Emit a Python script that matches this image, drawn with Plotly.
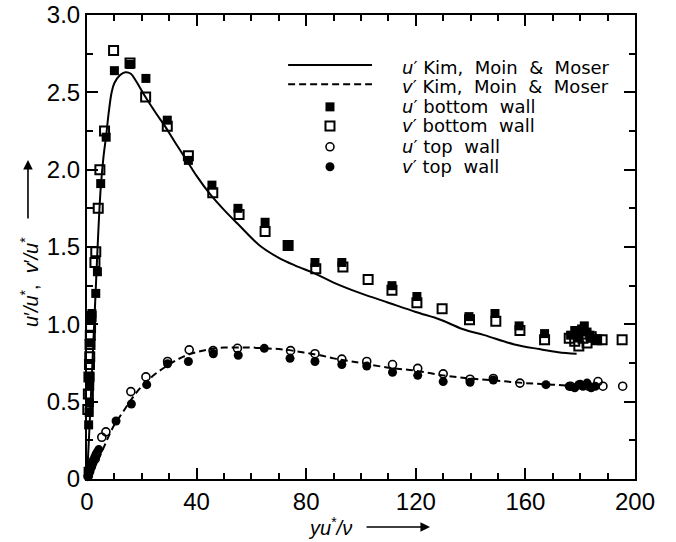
import plotly.graph_objects as go

# Kim, Moin & Moser DNS curves
kmm_u_x = [0, 1, 2, 3, 4, 5, 6, 7, 8, 9, 10, 12, 14, 16, 18, 21, 25, 28.5, 32, 36.4, 40, 45, 50, 55,
           63, 70, 76, 83, 90, 100, 110, 120, 129, 137, 145, 156, 165, 172, 178.7]
kmm_u_y = [0, 0.37, 0.76, 1.15, 1.55, 1.88, 2.08, 2.22, 2.38, 2.50, 2.56, 2.61, 2.63, 2.62, 2.57, 2.48,
           2.37, 2.28, 2.18, 2.06, 1.96, 1.84, 1.74, 1.65, 1.51, 1.43, 1.38, 1.33, 1.27, 1.20, 1.14,
           1.08, 1.03, 0.97, 0.93, 0.87, 0.84, 0.82, 0.81]
kmm_v_x = [0, 2, 4, 6, 8, 10, 13, 16, 20, 25, 30, 35, 40, 45, 50, 55, 60, 65, 70, 75, 80, 85, 90, 95,
           100, 110, 120, 130, 140, 150, 160, 170, 180, 186]
kmm_v_y = [0, 0.05, 0.12, 0.20, 0.28, 0.35, 0.43, 0.51, 0.60, 0.68, 0.74, 0.79, 0.82, 0.84, 0.85,
           0.85, 0.85, 0.845, 0.84, 0.83, 0.815, 0.80, 0.78, 0.765, 0.75, 0.72, 0.70, 0.67, 0.65,
           0.635, 0.62, 0.61, 0.60, 0.60]

# u' bottom wall (filled squares)
u_bot_x = [0.4, 0.6, 0.8, 0.9, 1.0, 1.1, 1.3, 1.5, 1.8, 3.2, 3.8, 5.0, 7.0, 10.0, 15.7, 21.5, 29.3,
           37.0, 45.6, 55.1, 65.0, 73.4, 83.2, 93.0, 111.3, 120.4, 139.4, 148.9, 157.7, 167.0,
           176.5, 178.0, 179.5, 180.5, 181.5, 182.5, 183.5, 184.5, 186.0]
u_bot_y = [0.05, 0.35, 0.43, 0.49, 0.60, 0.66, 0.88, 1.05, 1.07, 1.20, 1.34, 1.91, 2.21, 2.64, 2.68,
           2.59, 2.32, 2.06, 1.90, 1.75, 1.66, 1.51, 1.40, 1.40, 1.25, 1.18, 1.05, 1.07, 0.99, 0.94,
           0.93, 0.96, 0.92, 0.97, 0.99, 0.95, 0.93, 0.91, 0.90]

# v' bottom wall (open squares)
v_bot_x = [0.3, 0.5, 0.7, 0.9, 1.0, 1.1, 1.2, 1.3, 1.5, 2.9, 3.2, 4.1, 4.7, 6.4, 9.7, 15.7, 21.4,
           29.3, 37.0, 45.9, 55.5, 65.0, 73.4, 83.5, 93.4, 102.6, 111.3, 120.4, 129.6, 139.6, 149.2,
           158.0, 167.0, 176.0, 178.0, 179.5, 181.0, 182.5, 184.0, 186.0, 188.0, 195.3]
v_bot_y = [0.45, 0.55, 0.66, 0.74, 0.79, 0.87, 0.93, 0.98, 1.05, 1.40, 1.47, 1.75, 2.00, 2.25, 2.77,
           2.69, 2.47, 2.28, 2.09, 1.85, 1.71, 1.60, 1.51, 1.36, 1.37, 1.29, 1.22, 1.14, 1.10, 1.03,
           1.02, 0.96, 0.90, 0.91, 0.89, 0.86, 0.91, 0.88, 0.92, 0.90, 0.90, 0.90]

# u' top wall (open circles)
u_top_x = [0.5, 1.0, 1.6, 2.2, 3.0, 5.4, 6.9, 16.0, 21.5, 29.4, 37.3, 46.0, 54.9, 74.3, 83.2, 93.0,
           102.1, 111.5, 120.7, 130.0, 139.8, 148.3, 158.0, 176.5, 180.0, 183.0, 186.5, 188.3, 195.5]
u_top_y = [0.02, 0.05, 0.08, 0.11, 0.13, 0.27, 0.305, 0.565, 0.66, 0.76, 0.835, 0.83, 0.845, 0.83,
           0.81, 0.775, 0.76, 0.74, 0.715, 0.68, 0.645, 0.65, 0.62, 0.60, 0.61, 0.60, 0.63, 0.60, 0.60]

# v' top wall (filled circles)
v_top_x = [0.3, 0.8, 1.3, 1.8, 2.3, 2.8, 3.3, 3.8, 4.3, 10.6, 16.2, 21.8, 29.4, 37.0, 46.1, 55.2,
           64.7, 74.1, 83.2, 93.0, 102.1, 111.5, 120.7, 130.0, 139.8, 148.3, 167.5, 176.0, 178.0,
           179.5, 181.0, 182.5, 184.0, 185.5]
v_top_y = [0.015, 0.04, 0.07, 0.10, 0.12, 0.14, 0.16, 0.175, 0.19, 0.375, 0.485, 0.61, 0.745, 0.76,
           0.81, 0.80, 0.845, 0.78, 0.76, 0.74, 0.73, 0.69, 0.67, 0.63, 0.625, 0.64, 0.61, 0.60,
           0.59, 0.61, 0.60, 0.62, 0.59, 0.60]

x_ticks = [0, 40, 80, 120, 160, 200]
y_ticks = [0, 0.5, 1.0, 1.5, 2.0, 2.5, 3.0]
y_ticktext = ["0", "0.5", "1.0", "1.5", "2.0", "2.5", "3.0"]

legend_labels = [
    "<i>u</i>′\u00a0Kim,\u00a0\u00a0Moin\u00a0\u00a0&\u00a0\u00a0Moser",
    "<i>v</i>′\u00a0Kim,\u00a0\u00a0Moin\u00a0\u00a0&\u00a0\u00a0Moser",
    "<i>u</i>′\u00a0bottom\u00a0\u00a0wall",
    "<i>v</i>′\u00a0bottom\u00a0\u00a0wall",
    "<i>u</i>′\u00a0top\u00a0\u00a0wall",
    "<i>v</i>′\u00a0top\u00a0\u00a0wall",
]

FONT = "Liberation Sans, Arial, sans-serif"
LFONT = "DejaVu Sans, sans-serif"

fig = go.Figure()
fig.add_trace(go.Scatter(x=kmm_u_x, y=kmm_u_y, mode="lines", line=dict(color="black", width=2),
                         line_shape="spline", showlegend=False))
fig.add_trace(go.Scatter(x=kmm_v_x, y=kmm_v_y, mode="lines",
                         line=dict(color="black", width=2, dash="7px,4px"),
                         line_shape="spline", showlegend=False))
fig.add_trace(go.Scatter(x=u_bot_x, y=u_bot_y, mode="markers", cliponaxis=False,
                         marker=dict(symbol="square", size=9, color="black"), showlegend=False))
fig.add_trace(go.Scatter(x=v_bot_x, y=v_bot_y, mode="markers", cliponaxis=False,
                         marker=dict(symbol="square-open", size=9, color="black",
                                     line=dict(width=2, color="black")), showlegend=False))
fig.add_trace(go.Scatter(x=u_top_x, y=u_top_y, mode="markers", cliponaxis=False,
                         marker=dict(symbol="circle-open", size=8, color="black",
                                     line=dict(width=1.6, color="black")), showlegend=False))
fig.add_trace(go.Scatter(x=v_top_x, y=v_top_y, mode="markers", cliponaxis=False,
                         marker=dict(symbol="circle", size=9, color="black"), showlegend=False))

# custom legend on an overlay axis pair in [0,1] space
leg_rows = [0.892, 0.851, 0.802, 0.761, 0.716, 0.673]
lx0, lx1, lxm, ltext = 0.367, 0.520, 0.4434, 0.571
fig.add_trace(go.Scatter(x=[lx0, lx1], y=[leg_rows[0]] * 2, xaxis="x2", yaxis="y2", mode="lines",
                         line=dict(color="black", width=2), showlegend=False))
fig.add_trace(go.Scatter(x=[lx0, lx1], y=[leg_rows[1]] * 2, xaxis="x2", yaxis="y2", mode="lines",
                         line=dict(color="black", width=2, dash="7px,4px"), showlegend=False))
leg_markers = [
    dict(symbol="square", size=9, color="black"),
    dict(symbol="square-open", size=9, color="black", line=dict(width=2, color="black")),
    dict(symbol="circle-open", size=8, color="black", line=dict(width=1.6, color="black")),
    dict(symbol="circle", size=9, color="black"),
]
for i, m in enumerate(leg_markers):
    fig.add_trace(go.Scatter(x=[lxm], y=[leg_rows[i + 2]], xaxis="x2", yaxis="y2", mode="markers",
                             marker=m, showlegend=False))

annotations = []
text_offsets = [-0.006, -0.006, 0, 0, 0, 0]
for lab, yr, off in zip(legend_labels, leg_rows, text_offsets):
    annotations.append(dict(x=ltext, y=yr + off, xref="paper", yref="paper", text=lab,
                            showarrow=False, xanchor="left", yanchor="middle",
                            font=dict(size=18, color="black", family=LFONT)))

# axis titles with arrows
annotations.append(dict(x=0.4434, y=-0.1034, xref="paper", yref="paper",
                        text="<i>yu</i><sup>*</sup><i>/ν</i>", showarrow=False,
                        xanchor="center", yanchor="middle",
                        font=dict(size=20, color="black", family=FONT)))
annotations.append(dict(x=0.626, y=-0.1034, xref="paper", yref="paper", text="",
                        showarrow=True, ax=-65, ay=0, arrowhead=2, arrowsize=1.2,
                        arrowwidth=1.6, arrowcolor="black"))
annotations.append(dict(x=-0.104, y=0.4246, xref="paper", yref="paper",
                        text="<i>u</i>′<i>/u</i><sup>*</sup>,\u00a0\u00a0<i>v</i>′<i>/u</i><sup>*</sup>",
                        showarrow=False, textangle=-90, xanchor="center", yanchor="middle",
                        font=dict(size=20, color="black", family=FONT)))
annotations.append(dict(x=-0.1077, y=0.6875, xref="paper", yref="paper", text="",
                        showarrow=True, ax=0, ay=60, arrowhead=2, arrowsize=1.2,
                        arrowwidth=1.6, arrowcolor="black"))

fig.update_layout(
    width=676, height=542,
    margin=dict(l=87, r=41, t=15, b=63, autoexpand=False),
    paper_bgcolor="white", plot_bgcolor="white",
    showlegend=False,
    annotations=annotations,
    xaxis=dict(range=[0, 200], tickvals=x_ticks, ticks="inside", ticklen=11, tickwidth=1.5,
               tickcolor="black", showline=True, linewidth=2, linecolor="black", mirror="ticks",
               showgrid=False, zeroline=False, automargin=False, ticklabeloverflow="allow",
               minor=dict(dtick=10, ticks="inside", ticklen=6, tickwidth=1.5, tickcolor="black",
                          showgrid=False),
               tickfont=dict(size=24, color="black", family=FONT)),
    yaxis=dict(range=[0, 3], tickvals=y_ticks, ticktext=y_ticktext, ticks="inside", ticklen=11,
               tickwidth=1.5, tickcolor="black", showline=True, linewidth=2, linecolor="black",
               mirror="ticks", showgrid=False, zeroline=False, automargin=False,
               ticklabeloverflow="allow",
               minor=dict(dtick=0.25, ticks="inside", ticklen=6, tickwidth=1.5, tickcolor="black",
                          showgrid=False),
               tickfont=dict(size=24, color="black", family=FONT)),
    xaxis2=dict(range=[0, 1], overlaying="x", visible=False, fixedrange=True),
    yaxis2=dict(range=[0, 1], overlaying="y", visible=False, fixedrange=True),
)

# remove the browser's default 8px page margin so the figure fills the window exactly
fig.write_html("out.html", config={"displayModeBar": False},
               post_script="document.body.style.margin='0';")
